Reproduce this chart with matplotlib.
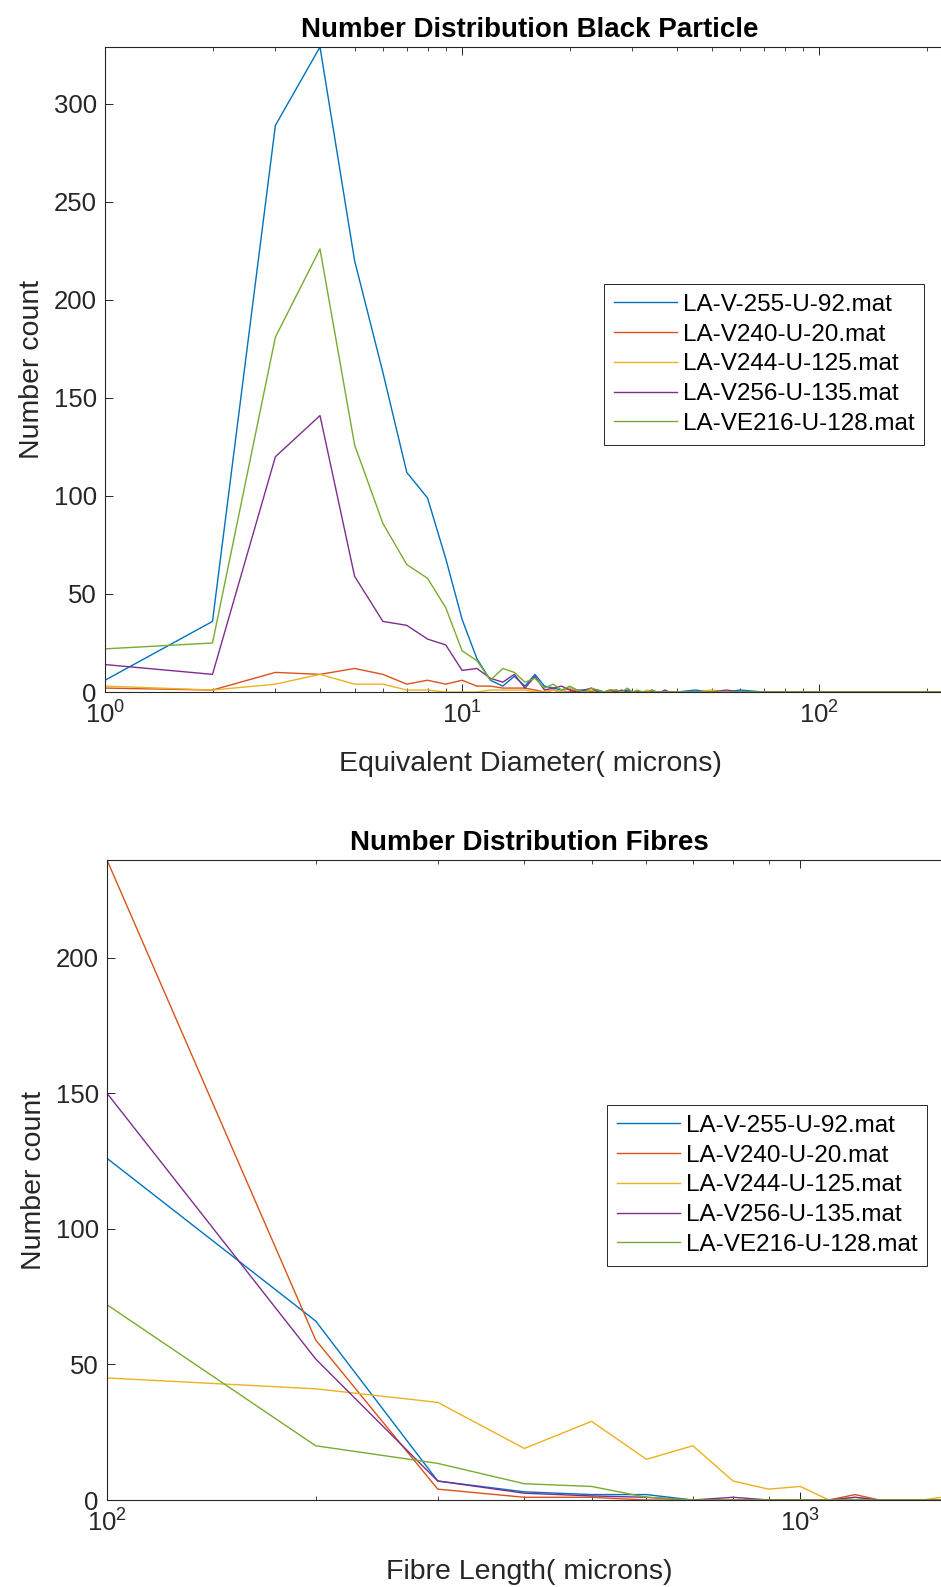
import numpy as np
import matplotlib.pyplot as plt
from matplotlib.ticker import NullFormatter, LogLocator

plt.rc('font', family='Liberation Sans')
plt.rc('mathtext', fontset='custom', rm='Liberation Sans', it='Liberation Sans')
plt.rc('axes', edgecolor='#262626', linewidth=0.8)
plt.rc('xtick', color='#262626')
plt.rc('ytick', color='#262626')
label_size = 18.5
legend_size = 17.5
axis_font = {'size': 20.5, 'color': '#262626'}
title_font = {'size': 20, 'weight': 'bold', 'color': 'black'}

names = ['LA-V-255-U-92.mat', 'LA-V240-U-20.mat', 'LA-V244-U-125.mat',
         'LA-V256-U-135.mat', 'LA-VE216-U-128.mat']
colors = ['#0072BD', '#D95319', '#EDB120', '#7E2F8E', '#77AC30']

#===================================================
# Black particle, equivalent diameter (microns)
diam = list(range(1, 41)) + [45, 50, 55, 60, 70, 80, 100, 150, 200, 250]
bp_v255 = [6, 36, 289, 329, 220, 163, 112, 99, 68, 37,
           17, 6, 3, 8, 3, 9, 3, 2, 1, 2,
           1, 1, 0, 1, 0, 1, 0, 0, 1, 0,
           0, 0, 0, 1, 0, 0, 0, 0, 0, 0,
           1, 0, 0, 1, 0, 0, 0, 0, 0, 0]
bp_v240 = [2, 1, 10, 9, 12, 9, 4, 6, 4, 6,
           3, 3, 2, 2, 2, 1, 0, 1, 0, 0,
           1, 0, 0, 0, 0, 0, 1, 0, 0, 0,
           0, 0, 0, 0, 0, 0, 0, 0, 0, 0,
           0, 0, 0, 0, 0, 0, 0, 0, 0, 0]
bp_v244 = [3, 1, 4, 9, 4, 4, 1, 1, 0, 0,
           0, 1, 1, 1, 1, 0, 0, 1, 0, 2,
           1, 0, 1, 0, 0, 1, 0, 0, 0, 0,
           0, 0, 1, 0, 0, 0, 0, 0, 0, 0,
           0, 1, 0, 0, 0, 0, 0, 0, 0, 0]
bp_v256 = [14, 9, 120, 141, 59, 36, 34, 27, 24, 11,
           12, 7, 5, 9, 2, 8, 1, 2, 3, 1,
           0, 1, 2, 0, 0, 1, 0, 1, 0, 0,
           0, 0, 0, 0, 0, 0, 1, 0, 0, 0,
           0, 0, 1, 0, 0, 0, 0, 0, 0, 0]
bp_ve216 = [22, 25, 181, 226, 126, 86, 65, 58, 43, 21,
            16, 6, 12, 10, 5, 7, 2, 4, 1, 3,
            1, 0, 2, 1, 0, 1, 1, 0, 2, 0,
            1, 0, 0, 1, 0, 0, 0, 0, 0, 0,
            0, 0, 0, 0, 0, 0, 0, 0, 0, 0]

#===================================================
# Fibres, fibre length (microns)
flen = [100, 200, 300, 400, 500, 600, 700, 800, 900, 1000,
        1100, 1200, 1300, 1400, 1500, 1600, 1700]
fb_v255 = [126, 66, 7, 3, 2, 2, 0, 0, 0, 0, 0, 0, 0, 0, 0, 0, 0]
fb_v240 = [236, 59, 4, 1, 1, 0, 0, 0, 0, 0, 0, 2, 0, 0, 0, 0, 0]
fb_v244 = [45, 41, 36, 19, 29, 15, 20, 7, 4, 5, 0, 1, 0, 0, 0, 1, 1]
fb_v256 = [150, 52, 7, 2.5, 1.5, 1, 0, 1, 0, 0, 0, 1, 0, 0, 0, 0, 0]
fb_ve216 = [72, 20, 13.5, 6, 5, 1, 0, 0, 0, 0, 0, 0, 0, 0, 0, 0, 0]

W, H = 941.0, 1587.0
fig = plt.figure(figsize=(W / 100, H / 100), dpi=100)


def style_axes(ax):
    ax.tick_params(which='both', direction='in', top=True, right=True,
                   labelsize=label_size, labelcolor='#262626')
    ax.tick_params(which='major', length=6, width=0.7)
    ax.tick_params(which='minor', length=3, width=0.6)
    ax.tick_params(axis='x', which='major', pad=7)
    ax.tick_params(axis='y', which='major', pad=6)
    ax.xaxis.set_minor_locator(LogLocator(base=10, subs=np.arange(2, 10)))
    ax.xaxis.set_minor_formatter(NullFormatter())


def add_legend(ax, x0, y0):
    leg = ax.legend(loc='upper left', bbox_to_anchor=(x0 / W, 1 - y0 / H),
                    bbox_transform=fig.transFigure, fontsize=legend_size,
                    fancybox=False, framealpha=1, edgecolor='#262626',
                    handlelength=2.6, handletextpad=0.25, labelspacing=0.32,
                    borderpad=0.4, borderaxespad=0)
    leg.get_frame().set_linewidth(0.7)


#===================================================
# top plot
ax1 = fig.add_axes([105 / W, 1 - 692 / H, 850 / W, (692 - 47) / H])
for y, name, c in zip([bp_v255, bp_v240, bp_v244, bp_v256, bp_ve216], names, colors):
    ax1.semilogx(diam, y, color=c, lw=1.0, label=name)
ax1.set_xlim(1, 240)
ax1.set_ylim(0, max(bp_v255))
ax1.set_yticks([0, 50, 100, 150, 200, 250, 300])
style_axes(ax1)
ax1.set_title('Number Distribution Black Particle', pad=7, **title_font)
ax1.set_xlabel('Equivalent Diameter( microns)', labelpad=16, **axis_font)
ax1.set_ylabel('Number count', labelpad=6, **axis_font)
add_legend(ax1, 604, 284)

#===================================================
# bottom plot
ax2 = fig.add_axes([107 / W, 1 - 1500 / H, 844 / W, (1500 - 860) / H])
for y, name, c in zip([fb_v255, fb_v240, fb_v244, fb_v256, fb_ve216], names, colors):
    ax2.semilogx(flen, y, color=c, lw=1.0, label=name)
ax2.set_xlim(100, 1650)
ax2.set_ylim(0, max(fb_v240))
ax2.set_yticks([0, 50, 100, 150, 200])
style_axes(ax2)
ax2.set_title('Number Distribution Fibres', pad=7, **title_font)
ax2.set_xlabel('Fibre Length( microns)', labelpad=16, **axis_font)
ax2.set_ylabel('Number count', labelpad=6, **axis_font)
add_legend(ax2, 607, 1105)

plt.savefig('out.png', dpi=100)
